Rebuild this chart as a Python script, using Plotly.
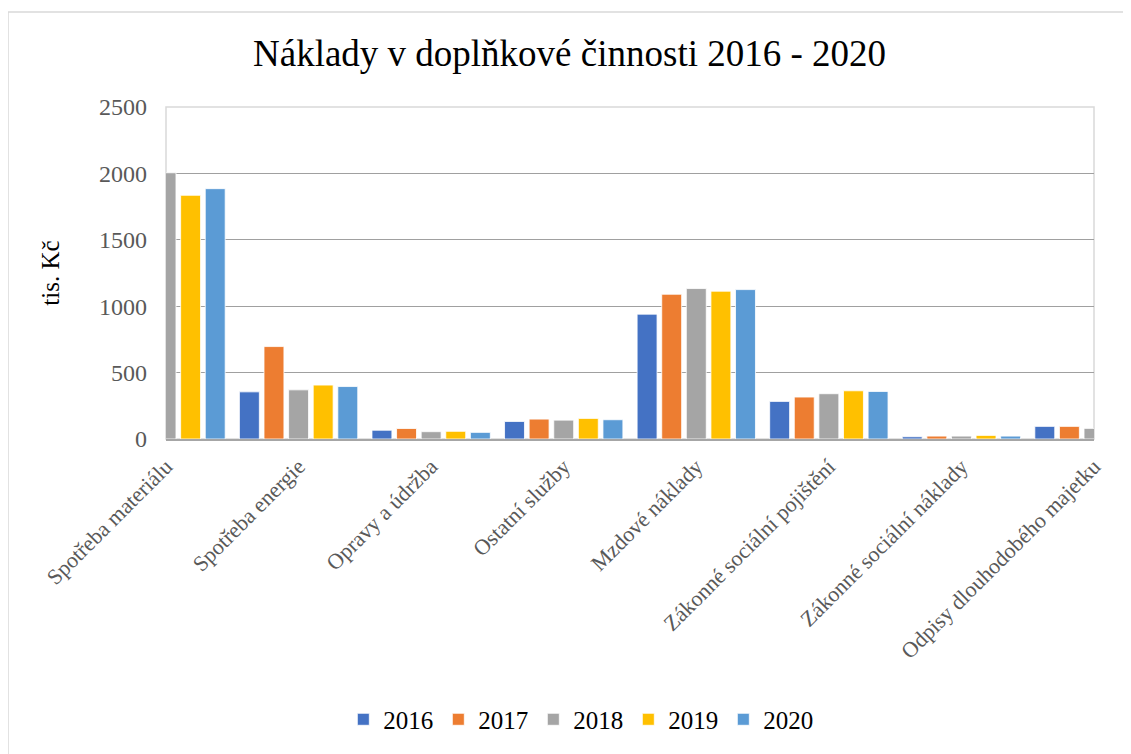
import plotly.graph_objects as go

categories = ["Spotřeba materiálu", "Spotřeba energie", "Opravy a údržba", "Ostatní služby",
              "Mzdové náklady", "Zákonné sociální pojištění", "Zákonné sociální náklady",
              "Odpisy dlouhodobého majetku"]
years = ["2016", "2017", "2018", "2019", "2020"]
v2016 = [1900, 355, 66, 132, 940, 283, 17, 95]
v2017 = [1950, 696, 79, 150, 1090, 316, 22, 95]
v2018 = [2005, 370, 55, 142, 1133, 341, 22, 80]
v2019 = [1835, 406, 58, 155, 1113, 363, 27, 80]
v2020 = [1885, 395, 50, 145, 1125, 358, 22, 80]
colors = ["#4472C4", "#ED7D31", "#A5A5A5", "#FFC000", "#5B9BD5"]

series = [v2016, v2017, v2018, v2019, v2020]
serif = "Liberation Serif"

fig = go.Figure()
for name, vals, col in zip(years, series, colors):
    fig.add_trace(go.Bar(name=name, x=categories, y=vals,
                         marker=dict(color=col, line=dict(color="white", width=0.8))))

fig.update_layout(
    width=1123, height=746,
    paper_bgcolor="white", plot_bgcolor="white",
    margin=dict(l=158, r=37, t=99, b=315, autoexpand=False),
    barmode="group", bargap=0.072, bargroupgap=0.19,
    title=dict(text="Náklady v doplňkové činnosti 2016 - 2020", x=0.5, xanchor="center",
               y=0.94, yanchor="middle", font=dict(family=serif, size=37, color="black")),
    font=dict(family=serif, color="#595959"),
    showlegend=True,
    legend=dict(orientation="h", x=0.447, xanchor="center", y=-0.845, yanchor="middle",
                font=dict(family=serif, size=25, color="black"), itemwidth=30,
                traceorder="normal"),
    xaxis=dict(type="category", range=[0, 7], tickangle=-45, showgrid=False,
               showline=True, linecolor="#A6A6A6", linewidth=2, ticklabelstandoff=4,
               tickfont=dict(family=serif, size=22, color="#595959"), ticks="",
               mirror=False),
    yaxis=dict(range=[0, 2500], dtick=500, showgrid=True, gridcolor="#A0A0A0", gridwidth=1.3,
               zeroline=False, showline=False, ticks="", ticklabelstandoff=18,
               tickfont=dict(family=serif, size=24, color="#595959"),
               title=dict(text="tis. Kč", standoff=32,
                          font=dict(family=serif, size=25, color="black"))),
    shapes=[
        dict(type="rect", xref="paper", yref="paper", x0=0, x1=1, y0=0, y1=1,
             line=dict(color="#D9D9D9", width=1.5), layer="below"),
        dict(type="line", xref="paper", yref="paper", x0=(8 - 166) / 928, x1=1.06,
             y0=(439 - 12) / 332, y1=(439 - 12) / 332, line=dict(color="#D9D9D9", width=1.5)),
        dict(type="line", xref="paper", yref="paper", x0=(8 - 166) / 928, x1=(8 - 166) / 928,
             y0=(439 - 12) / 332, y1=-1.0, line=dict(color="#D9D9D9", width=1.5)),
    ],
)

fig.write_html("out.html")
